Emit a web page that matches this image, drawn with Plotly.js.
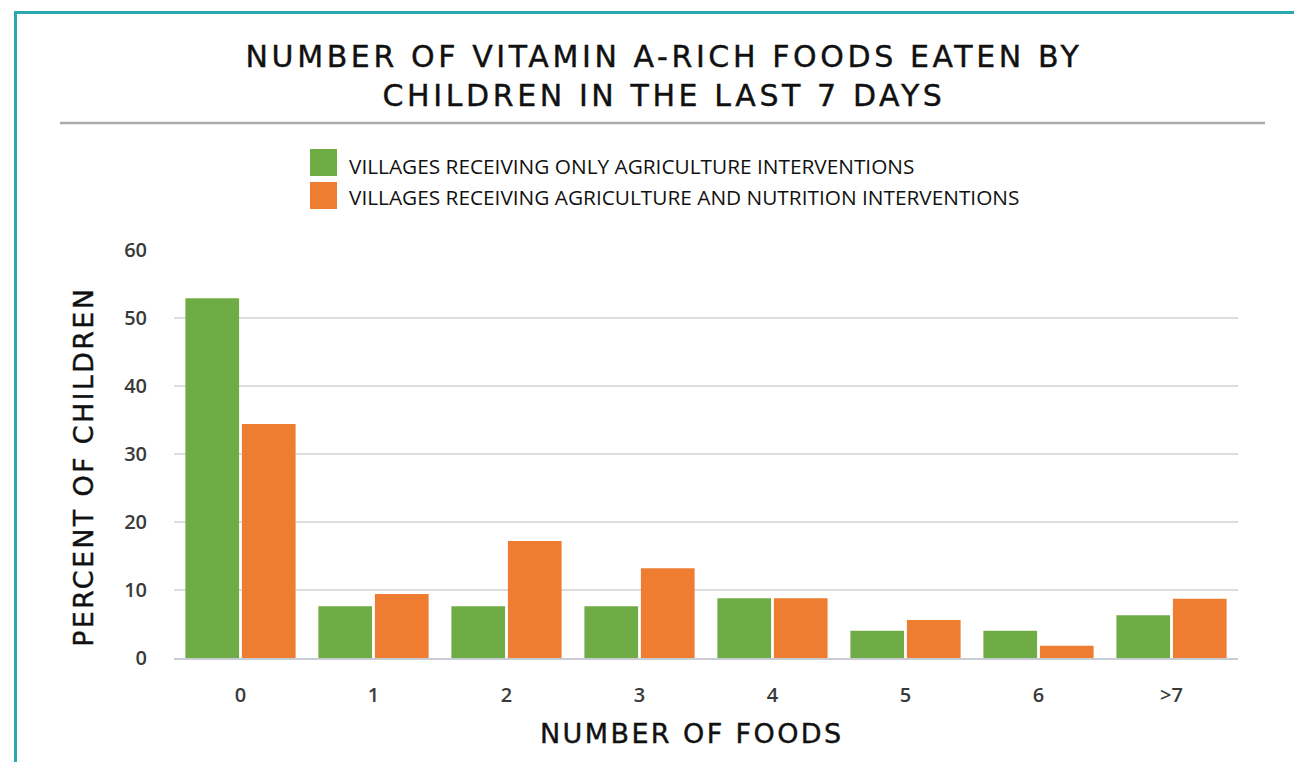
<!DOCTYPE html>
<html>
<head>
<meta charset="utf-8">
<script src="https://cdn.plot.ly/plotly-3.0.1.min.js"></script>
<style>
  html, body { margin: 0; padding: 0; background: #fff; }
  #chart { width: 1294px; height: 762px; }
</style>
</head>
<body>
<div id="chart"></div>
<script>
const categories = ["0", "1", "2", "3", "4", "5", "6", ">7"];
const agricultureOnly = [52.9, 7.6, 7.6, 7.6, 8.8, 4.0, 4.0, 6.3];
const agricultureNutrition = [34.4, 9.4, 17.2, 13.2, 8.8, 5.6, 1.8, 8.7];
const seriesNames = [
  "VILLAGES RECEIVING ONLY AGRICULTURE INTERVENTIONS",
  "VILLAGES RECEIVING AGRICULTURE AND NUTRITION INTERVENTIONS"
];
const yTicks = [0, 10, 20, 30, 40, 50, 60];

const W = 1294, H = 762;
const M = { l: 174, r: 56, t: 250, b: 104 };
const PW = W - M.l - M.r, PH = H - M.t - M.b;
const px = x => (x - M.l) / PW;
const py = y => (H - M.b - y) / PH;

const GREEN = "#6fac46", ORANGE = "#ee7d32";
const titleFont = "'DejaVu Sans', sans-serif";
const bodyFont = "'Open Sans', 'Noto Sans', sans-serif";

const traces = [
  { type: "bar", name: seriesNames[0], x: categories, y: agricultureOnly,
    marker: { color: GREEN }, showlegend: false, hoverinfo: "x+y" },
  { type: "bar", name: seriesNames[1], x: categories, y: agricultureNutrition,
    marker: { color: ORANGE }, showlegend: false, hoverinfo: "x+y" }
];

const shapes = [
  { type: "line", xref: "paper", yref: "paper", x0: px(15.5), x1: px(1300), y0: py(12.5), y1: py(12.5),
    line: { color: "#2aa8b2", width: 3 } },
  { type: "line", xref: "paper", yref: "paper", x0: px(15.5), x1: px(15.5), y0: py(11), y1: py(770),
    line: { color: "#2aa8b2", width: 3 } },
  { type: "line", xref: "paper", yref: "paper", x0: px(60), x1: px(1265), y0: py(123), y1: py(123),
    line: { color: "#aaaaaa", width: 2.5 } },
  { type: "rect", xref: "paper", yref: "paper", x0: px(310), x1: px(337), y0: py(149), y1: py(176),
    fillcolor: GREEN, line: { width: 0 } },
  { type: "rect", xref: "paper", yref: "paper", x0: px(310), x1: px(337), y0: py(182), y1: py(209),
    fillcolor: ORANGE, line: { width: 0 } }
];

const annotations = [
  { xref: "paper", yref: "paper", x: px(347), y: py(166), xanchor: "left", yanchor: "middle",
    text: seriesNames[0], showarrow: false, font: { family: bodyFont, size: 20.8, color: "#111" } },
  { xref: "paper", yref: "paper", x: px(347), y: py(197), xanchor: "left", yanchor: "middle",
    text: seriesNames[1], showarrow: false, font: { family: bodyFont, size: 20.8, color: "#111" } },
  { xref: "paper", yref: "paper", x: px(83), y: py(467), xanchor: "center", yanchor: "middle",
    text: "PERCENT OF CHILDREN", textangle: -90, showarrow: false,
    font: { family: titleFont, size: 27, color: "#111" } },
  { xref: "paper", yref: "paper", x: px(692), y: py(733), xanchor: "center", yanchor: "middle",
    text: "NUMBER OF FOODS", showarrow: false,
    font: { family: titleFont, size: 27, color: "#111" } }
];

const layout = {
  width: W, height: H,
  margin: M,
  paper_bgcolor: "#fff", plot_bgcolor: "#fff",
  title: {
    text: "NUMBER OF VITAMIN A-RICH FOODS EATEN BY<br>CHILDREN IN THE LAST 7 DAYS",
    font: { family: titleFont, size: 30, color: "#111" },
    x: 664 / W, xanchor: "center", xref: "container",
    y: 1 - 67 / H, yanchor: "middle", yref: "container"
  },
  barmode: "group",
  bargap: 0.15,
  bargroupgap: 0.05,
  xaxis: {
    type: "category",
    tickfont: { family: bodyFont, size: 20, color: "#3a3a3a", weight: 600 },
    ticks: "outside", ticklen: 18, tickcolor: "rgba(0,0,0,0)",
    showline: true, linecolor: "#c8ccd4", linewidth: 1.5,
    showgrid: false
  },
  yaxis: {
    range: [0, 60],
    tickvals: yTicks,
    tickfont: { family: bodyFont, size: 20, color: "#3a3a3a", weight: 600 },
    ticks: "outside", ticklen: 22, tickcolor: "rgba(0,0,0,0)",
    showgrid: true, gridcolor: "#dddddd", gridwidth: 1.5,
    zeroline: false, showline: false
  },
  shapes: shapes,
  annotations: annotations
};

Plotly.newPlot("chart", traces, layout, { displayModeBar: false, responsive: false }).then(gd => {
  const spacing = (sel, ls) => gd.querySelectorAll(sel).forEach(el => {
    el.style.letterSpacing = ls;
    el.style.stroke = "#111";
    el.style.strokeWidth = "0.4px";
  });
  spacing(".gtitle", "3.6px");
  spacing('g.annotation[data-index="2"] text', "2.3px");
  spacing('g.annotation[data-index="3"] text', "2.4px");
});
</script>
</body>
</html>
